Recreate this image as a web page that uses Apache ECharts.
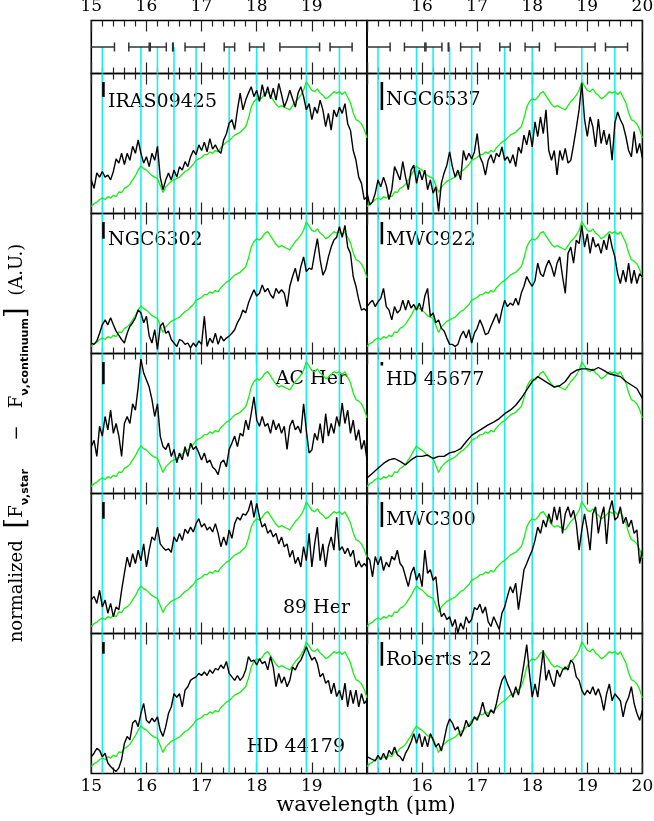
<!DOCTYPE html>
<html><head><meta charset="utf-8">
<script src="https://cdn.jsdelivr.net/npm/echarts@6/dist/echarts.min.js"></script>
<style>html,body{margin:0;padding:0;background:#fff}#c{width:654px;height:821px}</style>
</head><body><div id="c"></div><script>
// ---------- DATA ----------
const wl05 = Array.from({length:101}, (_, i) => Math.round((15 + i*0.05)*100)/100);
const wl10 = Array.from({length:51}, (_, i) => Math.round((15 + i*0.1)*100)/100);
const xTicks = [15,16,17,18,19,20];
const cyanLines = [15.2,15.9,16.2,16.5,16.9,17.5,18.0,18.9,19.5];
const errLow  = [14.98,15.68,16.07,16.475,16.70,17.41,17.87,18.42,19.33];
const errHigh = [15.42,16.05,16.36,16.485,17.05,17.60,18.13,19.14,19.73];
const panelNames = ['IRAS09425','NGC6537','NGC6302','MWC922','AC Her','HD 45677','89 Her','MWC300','HD 44179','Roberts 22'];
const scaleBarLen = [0.107,0.20,0.12,0.16,0.16,0.025,0.12,0.18,0.085,0.17];

const greenRef = [0.05,0.07,0.08,0.10,0.11,0.10,0.12,0.11,0.13,0.12,
 0.155,0.15,0.18,0.19,0.21,0.24,0.27,0.31,0.34,0.32,
 0.31,0.29,0.27,0.26,0.25,0.20,0.15,0.19,0.21,0.23,
 0.24,0.25,0.26,0.28,0.30,0.31,0.33,0.35,0.38,0.39,
 0.40,0.42,0.42,0.44,0.43,0.45,0.44,0.47,0.49,0.51,
 0.52,0.54,0.56,0.57,0.58,0.60,0.62,0.68,0.76,0.80,
 0.82,0.81,0.83,0.86,0.87,0.84,0.81,0.78,0.76,0.77,
 0.76,0.75,0.74,0.77,0.80,0.82,0.845,0.88,0.94,0.91,
 0.88,0.87,0.89,0.86,0.845,0.82,0.83,0.85,0.87,0.86,
 0.87,0.85,0.87,0.83,0.79,0.72,0.67,0.66,0.64,0.60,
 0.54];

const iras09425 = [0.24,0.18,0.29,0.26,0.30,0.26,0.275,0.24,0.30,0.39,
 0.36,0.43,0.35,0.43,0.38,0.48,0.43,0.525,0.43,0.36,
 0.405,0.335,0.43,0.38,0.48,0.26,0.17,0.24,0.29,0.24,
 0.31,0.26,0.335,0.31,0.37,0.335,0.405,0.45,0.42,0.49,
 0.45,0.51,0.44,0.535,0.46,0.49,0.45,0.43,0.525,0.57,
 0.645,0.67,0.60,0.74,0.86,0.74,0.81,0.86,0.905,0.835,
 0.88,0.80,0.92,0.835,0.905,0.82,0.895,0.81,0.93,0.85,
 0.76,0.81,0.88,0.82,0.76,0.86,0.905,0.835,0.74,0.785,
 0.67,0.76,0.715,0.81,0.74,0.62,0.715,0.595,0.74,0.69,
 0.76,0.715,0.785,0.64,0.595,0.45,0.38,0.26,0.215,0.10,
 0.12];
const ngc6537 = [0.15,0.06,0.085,0.145,0.24,0.19,0.26,0.20,0.10,0.17,
 0.335,0.29,0.24,0.37,0.26,0.17,0.31,0.345,0.215,0.31,
 0.24,0.31,0.17,0.24,0.145,0.19,0.015,0.215,0.29,0.345,
 0.44,0.335,0.26,0.31,0.24,0.45,0.38,0.43,0.39,0.44,
 0.57,0.405,0.36,0.275,0.38,0.42,0.36,0.43,0.405,0.475,
 0.38,0.405,0.36,0.42,0.335,0.475,0.43,0.56,0.49,0.595,
 0.475,0.655,0.55,0.69,0.57,0.74,0.45,0.38,0.45,0.275,
 0.45,0.38,0.465,0.36,0.38,0.49,0.61,0.74,0.93,0.67,
 0.55,0.69,0.62,0.475,0.675,0.50,0.595,0.49,0.57,0.38,
 0.645,0.725,0.67,0.63,0.55,0.45,0.405,0.585,0.43,0.50,
 0.395];
const ngc6302 = [0.075,0.065,0.09,0.145,0.205,0.24,0.205,0.255,0.205,0.16,
 0.13,0.10,0.075,0.145,0.195,0.22,0.255,0.31,0.29,0.22,
 0.265,0.125,0.075,0.17,0.03,0.195,0.22,0.145,0.16,0.10,
 0.075,0.05,0.10,0.09,0.065,0.075,0.04,0.075,0.05,0.09,
 0.065,0.265,0.05,0.11,0.075,0.145,0.065,0.125,0.09,0.11,
 0.125,0.145,0.17,0.22,0.255,0.31,0.29,0.36,0.41,0.455,
 0.41,0.43,0.49,0.44,0.465,0.42,0.395,0.465,0.43,0.455,
 0.43,0.335,0.48,0.55,0.61,0.515,0.62,0.69,0.585,0.61,
 0.60,0.715,0.82,0.67,0.56,0.60,0.69,0.76,0.81,0.83,
 0.905,0.83,0.915,0.76,0.715,0.55,0.48,0.385,0.31,0.32,
 0.30];
const mwc922 = [0.335,0.36,0.38,0.335,0.37,0.395,0.465,0.335,0.31,0.24,
 0.335,0.29,0.31,0.38,0.31,0.38,0.325,0.35,0.31,0.36,
 0.30,0.41,0.465,0.265,0.29,0.22,0.24,0.18,0.16,0.11,
 0.065,0.065,0.05,0.065,0.125,0.16,0.11,0.17,0.075,0.145,
 0.18,0.24,0.195,0.135,0.145,0.195,0.24,0.285,0.215,0.31,
 0.38,0.335,0.36,0.345,0.395,0.345,0.43,0.48,0.55,0.51,
 0.48,0.52,0.645,0.57,0.55,0.62,0.665,0.62,0.55,0.645,
 0.69,0.55,0.43,0.715,0.76,0.645,0.81,0.785,0.915,0.76,
 0.855,0.715,0.83,0.76,0.785,0.715,0.81,0.74,0.855,0.76,
 0.69,0.57,0.50,0.595,0.51,0.645,0.50,0.595,0.50,0.57,
 0.545];
const acHer = [0.335,0.38,0.265,0.48,0.41,0.55,0.455,0.595,0.43,0.50,
 0.41,0.265,0.50,0.55,0.50,0.64,0.595,0.76,0.96,0.86,
 0.81,0.76,0.67,0.55,0.64,0.41,0.335,0.315,0.36,0.265,
 0.315,0.22,0.29,0.24,0.335,0.265,0.36,0.315,0.335,0.29,
 0.24,0.29,0.22,0.24,0.19,0.17,0.135,0.22,0.24,0.19,
 0.315,0.36,0.41,0.335,0.43,0.41,0.525,0.455,0.57,0.69,
 0.525,0.48,0.55,0.48,0.50,0.43,0.525,0.455,0.50,0.43,
 0.48,0.315,0.48,0.525,0.455,0.48,0.43,0.64,0.45,0.29,
 0.31,0.43,0.38,0.50,0.36,0.57,0.41,0.50,0.43,0.55,
 0.48,0.645,0.50,0.595,0.43,0.525,0.38,0.455,0.315,0.38,
 0.24];
const hd45677 = [0.11,0.145,0.18,0.215,0.24,0.25,0.23,0.205,0.24,0.265,
 0.265,0.275,0.25,0.265,0.265,0.29,0.30,0.32,0.37,0.415,
 0.44,0.465,0.49,0.51,0.535,0.57,0.595,0.63,0.68,0.74,
 0.80,0.835,0.81,0.785,0.76,0.77,0.80,0.855,0.88,0.89,
 0.89,0.88,0.90,0.88,0.855,0.845,0.835,0.80,0.775,0.75,
 0.68];
const her89 = [0.24,0.265,0.215,0.31,0.19,0.24,0.145,0.215,0.12,0.19,
 0.17,0.31,0.43,0.545,0.475,0.57,0.50,0.595,0.52,0.64,
 0.475,0.595,0.69,0.665,0.76,0.64,0.615,0.595,0.605,0.58,
 0.69,0.655,0.715,0.665,0.745,0.715,0.76,0.725,0.785,0.82,
 0.76,0.785,0.74,0.76,0.725,0.785,0.715,0.62,0.69,0.63,
 0.74,0.68,0.785,0.83,0.81,0.855,0.845,0.88,0.95,0.83,
 0.93,0.83,0.76,0.785,0.715,0.74,0.69,0.715,0.64,0.69,
 0.62,0.64,0.545,0.595,0.50,0.545,0.475,0.62,0.52,0.715,
 0.475,0.64,0.76,0.52,0.64,0.475,0.62,0.69,0.595,0.83,
 0.595,0.62,0.57,0.61,0.55,0.595,0.475,0.52,0.475,0.50,
 0.475];
const mwc300 = [0.55,0.525,0.405,0.55,0.49,0.55,0.45,0.51,0.475,0.55,
 0.525,0.595,0.50,0.475,0.405,0.335,0.43,0.475,0.38,0.43,
 0.335,0.595,0.43,0.455,0.38,0.405,0.215,0.12,0.145,0.10,
 0.12,0.05,0.10,0.005,0.075,0.03,0.12,0.075,0.10,0.185,
 0.17,0.21,0.145,0.19,0.085,0.05,0.12,0.075,0.03,0.145,
 0.19,0.265,0.335,0.29,0.36,0.17,0.31,0.455,0.50,0.55,
 0.595,0.665,0.76,0.715,0.81,0.76,0.855,0.785,0.905,0.81,
 0.905,0.715,0.855,0.905,0.83,0.88,0.785,0.595,0.74,0.855,
 0.74,0.595,0.855,0.905,0.715,0.83,0.905,0.64,0.88,0.95,
 0.81,0.83,0.905,0.785,0.83,0.76,0.81,0.715,0.74,0.50,
 0.595];
const hd44179 = [0.12,0.145,0.18,0.165,0.12,0.145,0.075,0.05,0.03,0.015,
 0.04,0.10,0.215,0.265,0.24,0.36,0.38,0.335,0.43,0.50,
 0.38,0.36,0.395,0.37,0.405,0.31,0.265,0.335,0.43,0.475,
 0.57,0.545,0.57,0.475,0.595,0.62,0.665,0.68,0.69,0.715,
 0.70,0.725,0.70,0.74,0.715,0.75,0.74,0.775,0.75,0.80,
 0.715,0.69,0.665,0.70,0.665,0.69,0.74,0.835,0.80,0.81,
 0.775,0.82,0.785,0.80,0.74,0.835,0.76,0.62,0.715,0.645,
 0.69,0.62,0.665,0.76,0.74,0.785,0.81,0.855,0.905,0.855,
 0.81,0.83,0.785,0.69,0.715,0.645,0.665,0.57,0.645,0.55,
 0.595,0.525,0.645,0.475,0.595,0.50,0.595,0.475,0.57,0.50,
 0.525];
const roberts22 = [0.12,0.11,0.10,0.09,0.13,0.10,0.145,0.10,0.165,0.135,
 0.19,0.135,0.12,0.09,0.145,0.18,0.225,0.285,0.215,0.285,
 0.19,0.265,0.19,0.285,0.24,0.19,0.215,0.16,0.24,0.335,
 0.39,0.36,0.31,0.335,0.265,0.31,0.38,0.335,0.36,0.405,
 0.38,0.43,0.51,0.43,0.405,0.455,0.43,0.50,0.595,0.665,
 0.70,0.64,0.595,0.545,0.62,0.56,0.665,0.785,0.92,0.715,
 0.545,0.64,0.545,0.715,0.88,0.665,0.74,0.665,0.62,0.74,
 0.69,0.74,0.76,0.74,0.81,0.785,0.69,0.665,0.595,0.56,
 0.595,0.57,0.62,0.56,0.605,0.545,0.45,0.57,0.64,0.52,
 0.57,0.545,0.52,0.405,0.50,0.545,0.62,0.50,0.43,0.38,
 0.45];

const blackData = [iras09425, ngc6537, ngc6302, mwc922, acHer, hd45677, her89, mwc300, hd44179, roberts22];
const blackGrid = [wl05, wl05, wl05, wl05, wl05, wl10, wl05, wl05, wl05, wl05];

// ---------- LAYOUT ----------
const colLeft = [91.3, 367];
const colWidth = [275.7, 275.4];
const stripTop = 20.5, stripH = 53;
const rowTop0 = 73.5, rowH = 140;
const SERIF = 'DejaVu Serif';
const CYAN = '#19eef5', GREEN = '#16ee16';

const grids = [], xAxes = [], yAxes = [], series = [], graphics = [];

function addGrid(left, top, width, height, side, labelTop, labelBottom) {
  const g = grids.length;
  grids.push({left, top, width, height, show:true, borderColor:'#000', borderWidth:1.6,
    backgroundColor:'rgba(0,0,0,0)', containLabel:false, outerBoundsMode:'none'});
  const fmt = v => ((side===0 && v===20) || (side===1 && v===15)) ? '' : String(v);
  ['bottom','top'].forEach(pos => {
    xAxes.push({type:'value', gridIndex:g, position:pos, min:15, max:20, interval:1,
      axisLine:{show:false},
      axisTick:{show:true, inside:true, length:11, lineStyle:{color:'#222', width:1.2}},
      minorTick:{show:true, splitNumber:5, length:6, lineStyle:{color:'#222', width:1.2}},
      splitLine:{show:false}, minorSplitLine:{show:false},
      axisLabel:{show: pos==='top' ? labelTop : labelBottom, margin:5, color:'#000',
        fontFamily:SERIF, fontSize:17, formatter:fmt, showMinLabel:true, showMaxLabel:true}
    });
  });
  yAxes.push({type:'value', gridIndex:g, min:0, max:1, show:false});
  return g;
}

function vLineRender(yFrom, yTo, color, width) {
  return function(params, api) {
    const x = api.value(0);
    const a = api.coord([x, yFrom]), b = api.coord([x, yTo]);
    return {type:'line', shape:{x1:a[0], y1:a[1], x2:b[0], y2:b[1]},
      style:{stroke:color, lineWidth:width}};
  };
}

// top strip
for (let c = 0; c < 2; c++) {
  const g = addGrid(colLeft[c], stripTop, colWidth[c], stripH, c, true, false);
  series.push({type:'custom', xAxisIndex:2*g, yAxisIndex:g, clip:true, silent:true,
    data: cyanLines.map(v => [v, 0]), renderItem: vLineRender(0, 0.5, CYAN, 1.6)});
  series.push({type:'custom', xAxisIndex:2*g, yAxisIndex:g, clip:true, silent:true,
    data: errLow.map((lo, i) => [lo, errHigh[i]]),
    renderItem: function(params, api) {
      const a = api.coord([api.value(0), 0.5]), b = api.coord([api.value(1), 0.5]);
      const st = {stroke:'#333', lineWidth:1.5};
      return {type:'group', children:[
        {type:'line', shape:{x1:a[0], y1:a[1], x2:b[0], y2:b[1]}, style:st},
        {type:'line', shape:{x1:a[0], y1:a[1]-4.5, x2:a[0], y2:a[1]+4.5}, style:st},
        {type:'line', shape:{x1:b[0], y1:b[1]-4.5, x2:b[0], y2:b[1]+4.5}, style:st}
      ]};
    }});
}

// panels
const labelPlace = [
  {x:108, dy:29, align:'left'}, {x:386, dy:27, align:'left'},
  {x:108, dy:27, align:'left'}, {x:386, dy:27, align:'left'},
  {x:347, dy:26, align:'right'}, {x:386, dy:27, align:'left'},
  {x:350, dy:115, align:'right'}, {x:386, dy:27, align:'left'},
  {x:345, dy:114, align:'right'}, {x:386, dy:27, align:'left'}
];
for (let p = 0; p < 10; p++) {
  const row = Math.floor(p/2), c = p % 2;
  const top = rowTop0 + row*rowH;
  const g = addGrid(colLeft[c], top, colWidth[c], rowH, c, false, row === 4);
  const xi = 2*g;
  series.push({type:'custom', xAxisIndex:xi, yAxisIndex:g, clip:true, silent:true,
    data: cyanLines.map(v => [v, 0]), renderItem: vLineRender(0, 1, CYAN, 1.6)});
  series.push({type:'line', xAxisIndex:xi, yAxisIndex:g, showSymbol:false, symbol:'none',
    silent:true, animation:false, clip:true, sampling:null,
    data: wl05.map((w, i) => [w, greenRef[i]]),
    lineStyle:{color:GREEN, width:1.3}});
  series.push({type:'line', xAxisIndex:xi, yAxisIndex:g, showSymbol:false, symbol:'none',
    silent:true, animation:false, clip:true,
    data: blackGrid[p].map((w, i) => [w, blackData[p][i]]),
    lineStyle:{color:'#000', width:1.4}});
  const barX = c === 0 ? 15.22 : 15.27;
  series.push({type:'custom', xAxisIndex:xi, yAxisIndex:g, clip:true, silent:true,
    data: [[barX, 0.94, 0.94 - scaleBarLen[p]]],
    renderItem: function(params, api) {
      const a = api.coord([api.value(0), api.value(1)]), b = api.coord([api.value(0), api.value(2)]);
      return {type:'line', shape:{x1:a[0], y1:a[1], x2:b[0], y2:b[1]},
        style:{stroke:'#000', lineWidth:2.6}};
    }});
  const lp = labelPlace[p];
  graphics.push({type:'text', x:lp.x, y:top + lp.dy, silent:true,
    style:{text:panelNames[p], fill:'#000', font:'19px "DejaVu Serif"', align:lp.align, verticalAlign:'middle'}});
}

graphics.push({type:'text', x:366, y:806, silent:true,
  style:{text:'wavelength (\u03bcm)', fill:'#000', font:'21px "DejaVu Serif"', align:'center', verticalAlign:'middle'}});
graphics.push({type:'text', x:17, y:443, rotation:Math.PI/2, silent:true,
  style:{
    text:'{n|normalized  }{b|[}{n|F}{s|\u03bd,star}{n|     \u2212   F}{s|\u03bd,continuum}{b|]}{n|  (A.U.)}',
    align:'center', verticalAlign:'middle',
    rich:{
      n:{fontFamily:SERIF, fontSize:18, fill:'#000'},
      b:{fontFamily:SERIF, fontSize:28, fill:'#000'},
      s:{fontFamily:'DejaVu Sans', fontWeight:'bold', fontSize:11, fill:'#000', verticalAlign:'bottom'}
    }
  }});

const chart = echarts.init(document.getElementById('c'), null, {renderer:'canvas'});
chart.setOption({
  animation:false, backgroundColor:'#fff',
  grid:grids, xAxis:xAxes, yAxis:yAxes, series:series, graphic:graphics
});
</script></body></html>
